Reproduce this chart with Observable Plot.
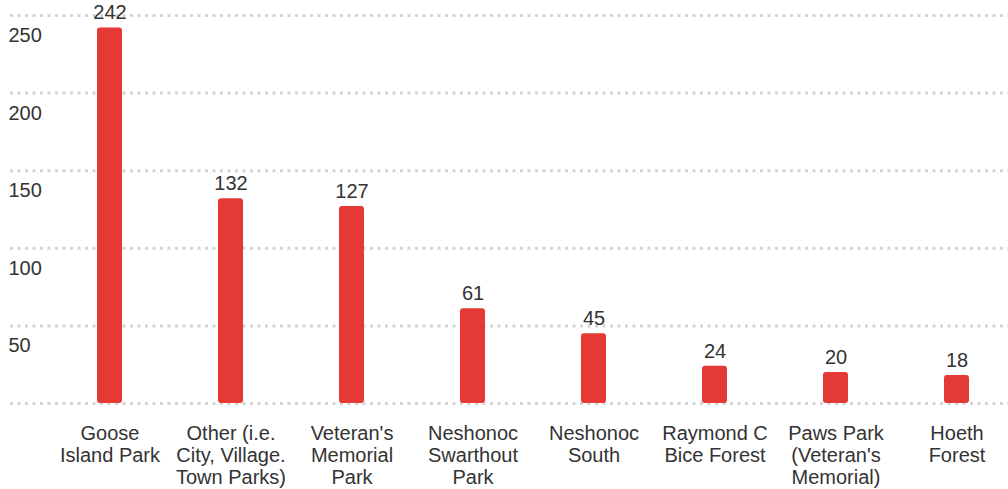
<!DOCTYPE html>
<html>
<head>
<meta charset="utf-8">
<script src="https://cdn.jsdelivr.net/npm/d3@7"></script>
<script src="https://cdn.jsdelivr.net/npm/@observablehq/plot@0.6"></script>
<style>
  html, body { margin: 0; padding: 0; background: #fff; }
  #chart svg { display: block; }
</style>
</head>
<body>
<div id="chart"></div>
<script>
const parks = [
  "Goose\nIsland Park",
  "Other (i.e.\nCity, Village.\nTown Parks)",
  "Veteran's\nMemorial\nPark",
  "Neshonoc\nSwarthout\nPark",
  "Neshonoc\nSouth",
  "Raymond C\nBice Forest",
  "Paws Park\n(Veteran's\nMemorial)",
  "Hoeth\nForest"
];
const counts = [242, 132, 127, 61, 45, 24, 20, 18];
const yTicks = [0, 50, 100, 150, 200, 250];
const yTickLabels = ["", "50", "100", "150", "200", "250"];

const data = parks.map((p, i) => ({park: p, count: counts[i]}));
const ticks = yTicks.map((v, i) => ({v, label: yTickLabels[i]}));

const chart = Plot.plot({
  width: 1008,
  height: 489,
  marginLeft: 10,
  marginRight: 0,
  marginTop: 15,
  marginBottom: 86,
  style: {fontFamily: "'Liberation Sans', Arial, sans-serif", color: "#333", background: "#fff"},
  x: {domain: parks, paddingInner: 0.793, paddingOuter: 0.52, align: 0.69, axis: null},
  y: {domain: [0, 250], axis: null},
  marks: [
    Plot.ruleY(ticks, {y: "v", stroke: "#d4d4d4", strokeWidth: 3, strokeDasharray: "3,4.5"}),
    Plot.text(ticks, {y: "v", text: "label", frameAnchor: "left", textAnchor: "start", dx: -2, dy: 20, fontSize: 20, fill: "#333"}),
    Plot.barY(data, {x: "park", y: "count", fill: "#e53935", rx: 3}),
    Plot.text(data, {x: "park", y: "count", text: d => String(d.count), dy: -15, fontSize: 20, fill: "#333"}),
    Plot.text(data, {x: "park", y: 0, text: "park", lineAnchor: "top", dy: 21, fontSize: 20, lineHeight: 1.1, fill: "#333"})
  ]
});
document.getElementById("chart").appendChild(chart);
</script>
</body>
</html>
